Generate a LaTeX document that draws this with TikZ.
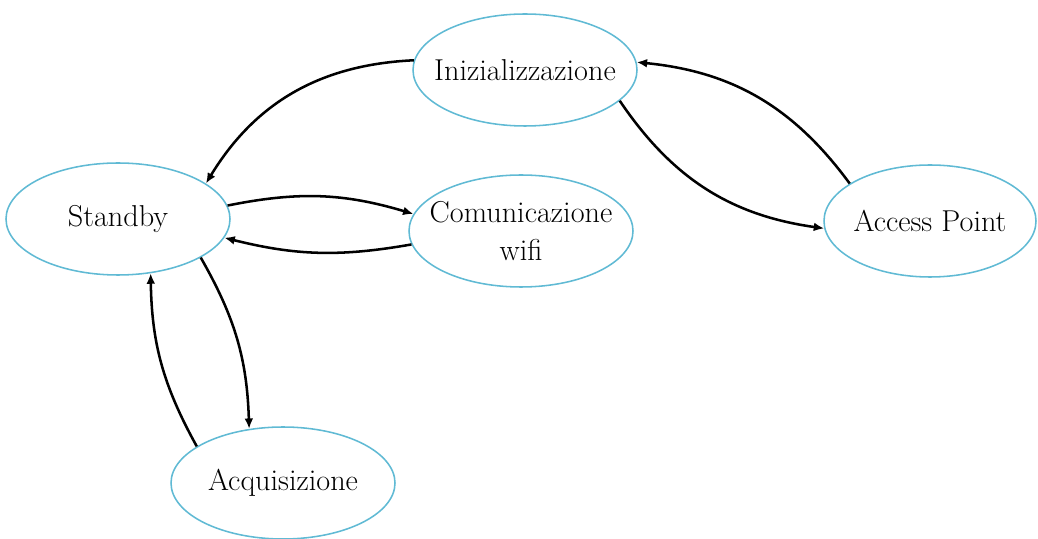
\documentclass[tikz,border=0pt]{standalone}
\usepackage{tikz}
\usetikzlibrary{arrows.meta, shapes.geometric}
\definecolor{stateblue}{RGB}{96,186,212}
\tikzset{
  state/.style = {ellipse, draw=stateblue, line width=1.1pt, minimum width=5.6cm, minimum height=2.8cm,
                  inner sep=-0.4cm, align=center, font=\fontsize{21.5}{27}\selectfont},
  conn/.style  = {-{Latex[length=2.6mm, width=2.2mm]}, line width=1.8pt, draw=black},
}
\begin{document}
\begin{tikzpicture}[x=1cm, y=1cm]
    \useasboundingbox (0,0) rectangle (25.95,13.45);

    % states
    \node[state] (init) at (13.125,11.7)  {Inizializzazione};
    \node[state] (stby) at (2.95,7.975)   {Standby};
    \node[state] (comm) at (13.025,7.675) {Comunicazione\\ wifi};
    \node[state, minimum width=5.3cm] (ap) at (23.25,7.925) {Access Point};
    \node[state] (acq)  at (7.075,1.375)  {Acquisizione};

    % transitions
    \draw[conn] (init.175) to[bend right=28] (stby.22);
    \draw[conn] (init.-18) to[bend right=24] (ap.184);
    \draw[conn] (ap.155)   to[bend right=24] (init.4);
    \draw[conn] (stby.7)   to[bend left=14]  (comm.171);
    \draw[conn] (comm.187) to[bend left=12]  (stby.350);
    \draw[conn] (stby.-25) to[bend left=14]  (acq.122);
    \draw[conn] (acq.157)  to[bend left=14]  (stby.301);
\end{tikzpicture}
\end{document}
